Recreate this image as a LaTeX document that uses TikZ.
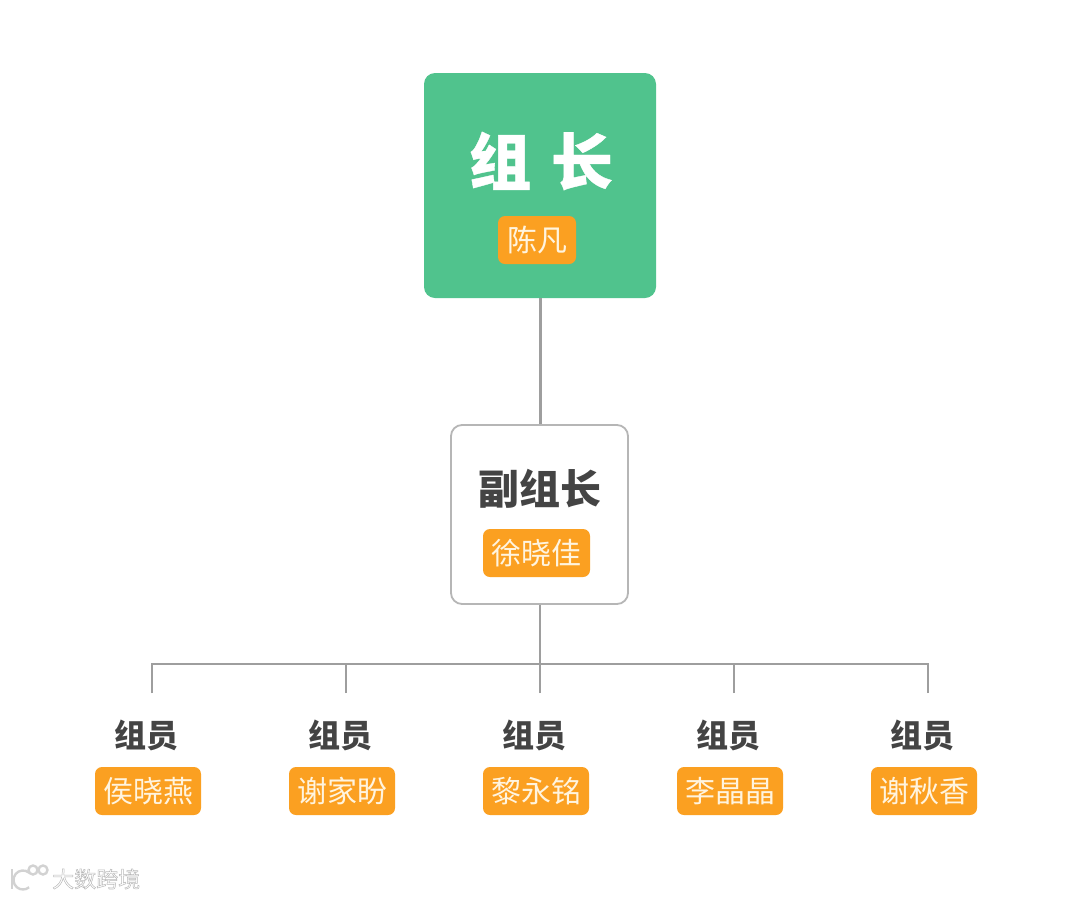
\documentclass[tikz,border=0pt]{standalone}
\usepackage{fontspec}
\setmainfont{Noto Sans CJK SC}
\newfontfamily\heavyfont{Noto Sans CJK SC}[BoldFeatures={FakeBold=0.6}]
\usetikzlibrary{positioning}
\definecolor{leadergreen}{HTML}{50C38D}
\definecolor{tagorange}{HTML}{FBA021}
\definecolor{tagtext}{HTML}{FFF4DF}
\definecolor{linegray}{HTML}{9E9E9E}
\definecolor{titlegray}{HTML}{444444}
\definecolor{markgray}{HTML}{D2D2D2}
\newcommand{\outlinetext}[1]{\special{pdf:code q 2 Tr 0.5 w 0.72 G 1 g}#1\special{pdf:code Q}}

\begin{document}
\begin{tikzpicture}[
  x=1pt, y=-1pt,
  leaderbox/.style={fill=leadergreen, rounded corners=11pt, minimum width=232pt, minimum height=225pt},
  deputybox/.style={draw=linegray!75, fill=white, line width=1.8pt, rounded corners=11pt, minimum width=177pt, minimum height=179pt},
  tag/.style={fill=tagorange, text=tagtext, rounded corners=7pt, minimum height=48pt, inner sep=0pt, font=\fontsize{30}{30}\selectfont},
  title/.style={text=titlegray, inner sep=0pt, font=\bfseries\fontsize{32}{32}\selectfont},
  link/.style={draw=linegray, line width=2.4pt}
]
\useasboundingbox (0,0) rectangle (1080,898);

% top
\node[leaderbox] (leader) at (540,185.5) {};
\node[inner sep=0pt, text=white, font=\heavyfont\bfseries\fontsize{62}{62}\selectfont] (leadertitle) at (541,161) {组\hspace{0.32em}长};
\node[tag, minimum width=78pt] (leadertag) at (537,240) {陈凡};

% middle
\node[deputybox] (deputy) at (539.5,514.5) {};
\node[title, font=\bfseries\fontsize{41}{41}\selectfont] (deputytitle) at (540,489) {副组长};
\node[tag, minimum width=107pt] (deputytag) at (536.5,553) {徐晓佳};

\draw[link] (leader.south -| deputy.north) ++(1,0) -- ++(0,126);
\coordinate (busmid) at (540,664);
\draw[link] (deputy.south -| busmid) -- (busmid);
\draw[link] (152,693) |- (928,664) -- (928,693);

% members
\foreach \i/\xpos/\who in {1/148/侯晓燕, 2/342/谢家盼, 3/536/黎永铭, 4/730/李晶晶, 5/924/谢秋香}{
  \node[tag, minimum width=106pt] (tag\i) at (\xpos,791) {\who};
  \node[title] (member\i) at (\xpos-2,735) {组员};
  \coordinate (stub\i) at (\xpos+4,693);
  \draw[link] (stub\i) -- (stub\i |- busmid);
}

% watermark
\begin{scope}[draw=markgray, line width=2.4pt, double=white, double distance=1.2pt]
  \draw (12,869) -- (12,889);
  \draw (29.1,872.7) arc (-50:-310:9.5);
  \draw (33,870) circle (4.5);
  \draw (43,870) circle (4.5);
\end{scope}
\node[inner sep=0pt, anchor=west, font=\fontsize{22}{22}\selectfont] (mark) at (52,879) {\outlinetext{大数跨境}};
\end{tikzpicture}
\end{document}
